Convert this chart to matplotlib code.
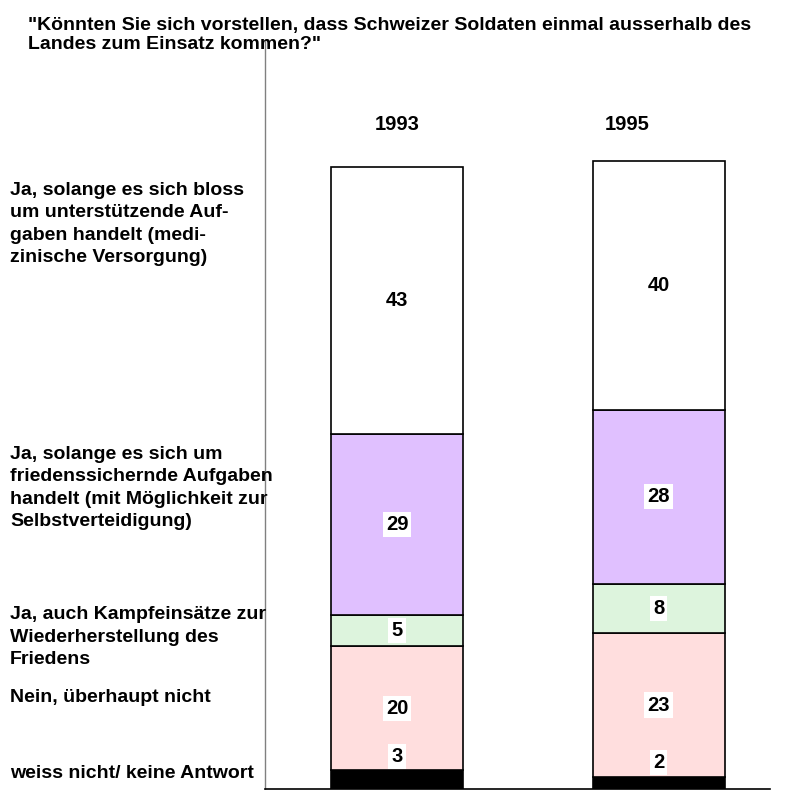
import numpy as np
import matplotlib.pyplot as plt

years = ['1993', '1995']
categories = [
    'weiss nicht/ keine Antwort',
    'Nein, überhaupt nicht',
    'Ja, auch Kampfeinsätze zur\nWiederherstellung des\nFriedens',
    'Ja, solange es sich um\nfriedenssichernde Aufgaben\nhandelt (mit Möglichkeit zur\nSelbstverteidigung)',
    'Ja, solange es sich bloss\num unterstützende Auf-\ngaben handelt (medi-\nzinische Versorgung)',
]
vals_1993 = [3, 20, 5, 29, 43]
vals_1995 = [2, 23, 8, 28, 40]
colors = ['#000000', '#FFDEDE', '#DDF4DD', '#E0C0FF', '#FFFFFF']

plt.rcParams['font.family'] = ['Liberation Sans', 'DejaVu Sans']
plt.rcParams['font.weight'] = 'bold'

fig = plt.figure(figsize=(7.89, 7.90), dpi=100)
ax = fig.add_axes([265/789, 1/790, 505/789, 749/790])

data = np.array([vals_1993, vals_1995])
x = np.arange(len(years))
w = 0.505
fs = 14.5
bottom = np.zeros(len(years))
for i in range(len(categories)):
    ax.bar(x, data[:, i], w, bottom=bottom, color=colors[i],
           edgecolor='black', linewidth=1.2, zorder=2)
    for j in range(len(years)):
        v = data[j, i]
        box = dict(boxstyle='square,pad=0.15', fc='white', ec='none')
        if i == 0:
            # kleine Werte oberhalb des schwarzen Segments
            ax.annotate(str(v), (x[j], bottom[j] + v), xytext=(0, 10),
                        textcoords='offset points', ha='center', va='center',
                        fontsize=fs, fontweight='bold', zorder=3, bbox=box)
        else:
            ax.text(x[j], bottom[j] + v / 2, str(v), ha='center', va='center',
                    fontsize=fs, fontweight='bold', zorder=3, bbox=box)
    bottom += data[:, i]

ax.text(0, 106.8, years[0], ha='center', va='center', fontsize=fs, fontweight='bold')
ax.text(1 - 0.12, 106.8, years[1], ha='center', va='center', fontsize=fs, fontweight='bold')

ax.set_xlim(-0.505, 1.426)
ax.set_ylim(0, 120.4)
ax.set_xticks([])
ax.set_yticks([])
ax.spines['top'].set_visible(False)
ax.spines['right'].set_visible(False)
ax.spines['left'].set_color('#808080')
ax.spines['left'].set_linewidth(1.0)
ax.spines['bottom'].set_color('black')
ax.spines['bottom'].set_linewidth(1.2)
ax.patch.set_alpha(0)

# Beschriftung links
label_y = [773, 697, 637, 488, 224]
for lab, yy in zip(categories, label_y):
    fig.text(10/789, 1 - yy/790, lab, ha='left', va='center', fontsize=14,
             fontweight='bold', linespacing=1.4)

fig.text(28/789, 1 - 35/790,
         '"Könnten Sie sich vorstellen, dass Schweizer Soldaten einmal ausserhalb des\n'
         'Landes zum Einsatz kommen?"',
         ha='left', va='center', fontsize=14, fontweight='bold', linespacing=1.15)

fig.savefig('out.png', dpi=100)
